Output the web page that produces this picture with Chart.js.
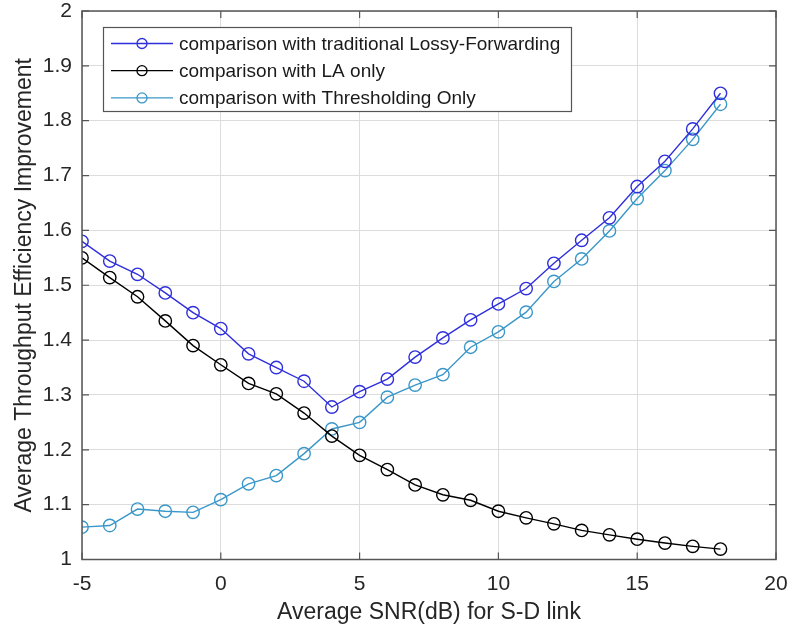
<!DOCTYPE html>
<html>
<head>
<meta charset="utf-8">
<title>Average Throughput Efficiency Improvement</title>
<script src="https://cdn.jsdelivr.net/npm/chart.js@4/dist/chart.umd.min.js"></script>
<style>
  html, body { margin: 0; padding: 0; background: #ffffff; }
  canvas { display: block; }
</style>
</head>
<body>
<canvas id="chart" width="792" height="631"></canvas>
<script>
// SNR (dB) of the source-destination link
const snr = [-5, -4, -3, -2, -1, 0, 1, 2, 3, 4, 5, 6, 7, 8, 9, 10, 11, 12, 13, 14, 15, 16, 17, 18];

// Throughput efficiency improvement against each reference scheme
const lossyForward = [1.580, 1.544, 1.520, 1.486, 1.450, 1.421, 1.375, 1.350, 1.325, 1.278, 1.306, 1.329,
                      1.369, 1.404, 1.437, 1.466, 1.494, 1.540, 1.582, 1.623, 1.680, 1.726, 1.785, 1.850];
const laOnly = [1.550, 1.514, 1.479, 1.435, 1.390, 1.355, 1.321, 1.302, 1.267, 1.225, 1.190, 1.164,
                1.136, 1.118, 1.108, 1.088, 1.076, 1.065, 1.053, 1.045, 1.037, 1.030, 1.024, 1.019];
const thresholdOnly = [1.059, 1.062, 1.092, 1.088, 1.086, 1.109, 1.138, 1.153, 1.193, 1.238, 1.250, 1.296,
                       1.318, 1.337, 1.387, 1.415, 1.451, 1.507, 1.548, 1.599, 1.658, 1.709, 1.766, 1.830];

const seriesLabels = [
  'comparison with traditional Lossy-Forwarding',
  'comparison with LA only',
  'comparison with Thresholding Only'
];

// Axis tick values
const xTicks = [-5, 0, 5, 10, 15, 20];
const yTicks = [1, 1.1, 1.2, 1.3, 1.4, 1.5, 1.6, 1.7, 1.8, 1.9, 2];

const xTitle = 'Average SNR(dB) for S-D link';
const yTitle = 'Average Throughput Efficiency Improvement';

const FONT = '"Liberation Sans", Arial, Helvetica, sans-serif';
const colors = ['#2f2fdc', '#000000', '#3a97c9'];

const toPoints = (ys) => snr.map((x, i) => ({ x: x, y: ys[i] }));

function makeDataset(label, values, color) {
  return {
    label: label,
    data: toPoints(values),
    borderColor: color,
    backgroundColor: 'rgba(0,0,0,0)',
    borderWidth: 1.4,
    pointRadius: 6.2,
    pointHoverRadius: 6.2,
    pointBorderWidth: 1.4,
    pointBorderColor: color,
    pointBackgroundColor: 'rgba(0,0,0,0)',
    tension: 0,
    fill: false
  };
}

// Axes box with inward tick marks on all four sides, like a boxed plot
const boxPlugin = {
  id: 'boxAxes',
  afterDatasetsDraw(chart) {
    const { ctx, chartArea: a, scales } = chart;
    const len = 7;
    ctx.save();
    ctx.strokeStyle = '#555555';
    ctx.lineWidth = 1.5;
    ctx.strokeRect(a.left, a.top, a.right - a.left, a.bottom - a.top);
    ctx.lineWidth = 1.2;
    ctx.beginPath();
    xTicks.forEach(v => {
      const px = scales.x.getPixelForValue(v);
      ctx.moveTo(px, a.bottom); ctx.lineTo(px, a.bottom - len);
      ctx.moveTo(px, a.top); ctx.lineTo(px, a.top + len);
    });
    yTicks.forEach(v => {
      const py = scales.y.getPixelForValue(v);
      ctx.moveTo(a.left, py); ctx.lineTo(a.left + len, py);
      ctx.moveTo(a.right, py); ctx.lineTo(a.right - len, py);
    });
    ctx.stroke();
    ctx.restore();
  }
};

// Legend box in the upper-left corner of the plot
const legendPlugin = {
  id: 'insideLegend',
  afterDraw(chart) {
    const { ctx } = chart;
    const box = { x: 103.5, y: 27.5, w: 468, h: 84 };
    const rowY = [43.5, 70.7, 97.9];
    ctx.save();
    ctx.fillStyle = '#ffffff';
    ctx.fillRect(box.x, box.y, box.w, box.h);
    ctx.strokeStyle = '#555555';
    ctx.lineWidth = 1.2;
    ctx.strokeRect(box.x, box.y, box.w, box.h);
    chart.data.datasets.forEach((ds, i) => {
      const y = rowY[i];
      ctx.strokeStyle = ds.borderColor;
      ctx.lineWidth = 1.3;
      ctx.beginPath();
      ctx.moveTo(111, y); ctx.lineTo(173, y);
      ctx.stroke();
      ctx.beginPath();
      ctx.arc(142, y, 5, 0, Math.PI * 2);
      ctx.stroke();
      ctx.fillStyle = '#1a1a1a';
      ctx.font = '19px ' + FONT;
      ctx.textBaseline = 'middle';
      ctx.textAlign = 'left';
      ctx.fillText(ds.label, 179, y + 1);
    });
    ctx.restore();
  }
};

new Chart(document.getElementById('chart'), {
  type: 'line',
  data: {
    datasets: [
      makeDataset(seriesLabels[0], lossyForward, colors[0]),
      makeDataset(seriesLabels[1], laOnly, colors[1]),
      makeDataset(seriesLabels[2], thresholdOnly, colors[2])
    ]
  },
  options: {
    responsive: false,
    animation: false,
    devicePixelRatio: 1,
    layout: { padding: { top: 11, right: 16, left: 0, bottom: 0 } },
    plugins: {
      legend: { display: false },
      tooltip: { enabled: false }
    },
    scales: {
      x: {
        type: 'linear',
        min: -5,
        max: 20,
        afterBuildTicks(scale) { scale.ticks = xTicks.map(v => ({ value: v })); },
        afterFit(scale) {
          scale.height = 71.5;
          scale.paddingLeft = 0;
          scale.paddingRight = 0;
        },
        ticks: {
          font: { family: FONT, size: 21 },
          color: '#262626',
          padding: 12,
          maxRotation: 0,
          callback: (v) => String(v)
        },
        grid: { color: '#dcdcdc', lineWidth: 1, drawTicks: false },
        border: { display: false },
        title: {
          display: true,
          text: xTitle,
          font: { family: FONT, size: 23 },
          color: '#262626',
          padding: { top: 0, bottom: 5 }
        }
      },
      y: {
        type: 'linear',
        min: 1,
        max: 2,
        afterBuildTicks(scale) { scale.ticks = yTicks.map(v => ({ value: v })); },
        afterFit(scale) {
          scale.width = 82;
          scale.paddingTop = 0;
          scale.paddingBottom = 0;
        },
        ticks: {
          font: { family: FONT, size: 21 },
          color: '#262626',
          padding: 10,
          callback: (v) => String(Number(v.toFixed(1)))
        },
        grid: { color: '#dcdcdc', lineWidth: 1, drawTicks: false },
        border: { display: false },
        title: {
          display: true,
          text: yTitle,
          font: { family: FONT, size: 23 },
          color: '#262626',
          padding: { top: 11, bottom: 0 }
        }
      }
    }
  },
  plugins: [boxPlugin, legendPlugin]
});
</script>
</body>
</html>
